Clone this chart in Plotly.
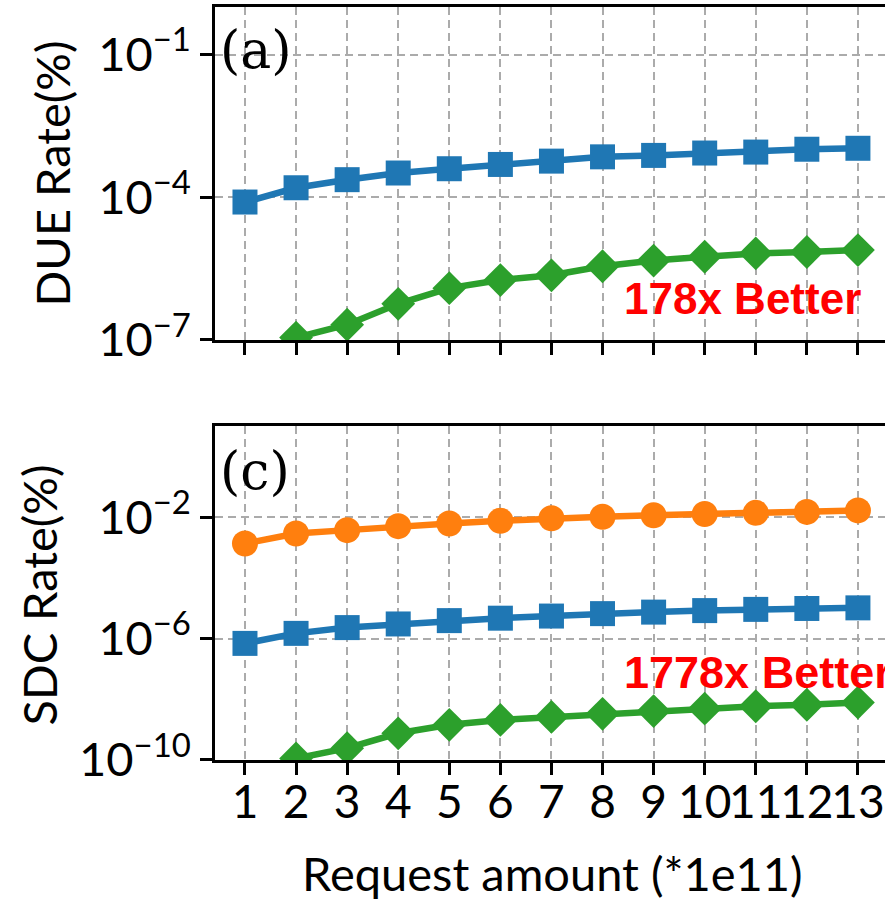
import plotly.graph_objects as go

# ---------------- data ----------------
x_vals = [1, 2, 3, 4, 5, 6, 7, 8, 9, 10, 11, 12, 13]
x_ticktext = [str(v) for v in x_vals]

# (a) DUE rate (%)  -- log10 values
due_blue_log = [-4.10, -3.80, -3.63, -3.49, -3.40, -3.31, -3.24, -3.15, -3.12, -3.07, -3.05, -2.99, -2.97]
due_green_log = [None, -6.95, -6.68, -6.24, -5.91, -5.74, -5.64, -5.45, -5.33, -5.25, -5.18, -5.15, -5.11]

# (c) SDC rate (%)
sdc_orange_log = [-2.87, -2.54, -2.43, -2.30, -2.21, -2.12, -2.04, -1.99, -1.94, -1.90, -1.86, -1.83, -1.78]
sdc_blue_log = [-6.16, -5.83, -5.64, -5.52, -5.41, -5.33, -5.26, -5.18, -5.13, -5.08, -5.04, -5.01, -4.99]
sdc_green_log = [None, -9.95, -9.61, -9.12, -8.84, -8.68, -8.58, -8.48, -8.39, -8.31, -8.23, -8.18, -8.11]

due_ticks = [1e-1, 1e-4, 1e-7]
due_ticktext = ["10<sup>\u22121</sup>", "10<sup>\u22124</sup>", "10<sup>\u22127</sup>"]
sdc_ticks = [1e-2, 1e-6, 1e-10]
sdc_ticktext = ["10<sup>\u22122</sup>", "10<sup>\u22126</sup>", "10<sup>\u221210</sup>"]


def to_val(logs):
    return [None if v is None else 10 ** v for v in logs]


BLUE = "#1f77b4"
ORANGE = "#ff7f0e"
GREEN = "#2ca02c"
FONT = "Lato, 'Open Sans', sans-serif"

fig = go.Figure()


def add(y_logs, color, symbol, xa, ya, size=25):
    fig.add_trace(go.Scatter(
        x=x_vals, y=to_val(y_logs), mode="lines+markers",
        line=dict(color=color, width=6.5),
        marker=dict(color=color, symbol=symbol, size=size),
        xaxis=xa, yaxis=ya, showlegend=False, connectgaps=False,
    ))


add(due_blue_log, BLUE, "square", "x", "y")
add(due_green_log, GREEN, "diamond", "x", "y", size=26)
add(sdc_orange_log, ORANGE, "circle", "x2", "y2", size=26)
add(sdc_blue_log, BLUE, "square", "x2", "y2")
add(sdc_green_log, GREEN, "diamond", "x2", "y2", size=26)

grid = dict(showgrid=True, gridcolor="#ababab", gridwidth=2, griddash="8px,5px")
axline = dict(showline=True, linecolor="black", linewidth=2.5,
              ticks="outside", ticklen=12, tickwidth=2.5, tickcolor="black",
              zeroline=False)

xcommon = dict(range=[0.413, 13.53], tickmode="array", tickvals=x_vals,
               ticktext=x_ticktext, tickangle=0, mirror=True,
               ticklabeloverflow="allow",
               tickfont=dict(family=FONT, size=46, color="black"),
               **grid, **axline)

fig.update_layout(
    width=885, height=903,
    margin=dict(l=215, r=0, t=7, b=143),
    paper_bgcolor="white", plot_bgcolor="white",
    xaxis=dict(domain=[0, 1], anchor="y", showticklabels=False, **xcommon),
    xaxis2=dict(domain=[0, 1], anchor="y2", showticklabels=True,
                ticklabelstandoff=-12, **xcommon),
    yaxis=dict(domain=[0.5578, 1], anchor="x", type="log", range=[-7, 0],
               tickmode="array", tickvals=due_ticks, ticktext=due_ticktext,
               tickfont=dict(family=FONT, size=47, color="black"),
               **grid, **axline),
    yaxis2=dict(domain=[0, 0.4436], anchor="x2", type="log", range=[-10, 1],
                tickmode="array", tickvals=sdc_ticks, ticktext=sdc_ticktext,
                tickfont=dict(family=FONT, size=47, color="black"),
                **grid, **axline),
)

ann = []
# axis titles
ann.append(dict(text="DUE Rate(%)", xref="paper", yref="paper", x=-0.2433, y=0.779,
                textangle=-90, showarrow=False, xanchor="center", yanchor="middle",
                font=dict(family=FONT, size=47, color="black")))
ann.append(dict(text="SDC Rate(%)", xref="paper", yref="paper", x=-0.262, y=0.219,
                textangle=-90, showarrow=False, xanchor="center", yanchor="middle",
                font=dict(family=FONT, size=47, color="black")))
ann.append(dict(text="Request amount (*1e11)", xref="paper", yref="paper", x=0.503, y=-0.150,
                showarrow=False, xanchor="center", yanchor="middle",
                font=dict(family=FONT, size=47, color="black")))
# panel labels
ann.append(dict(text="(a)", xref="paper", yref="paper", x=0.0045, y=0.9435,
                showarrow=False, xanchor="left", yanchor="middle",
                font=dict(family="DejaVu Serif", size=52, color="black")))
ann.append(dict(text="(c)", xref="paper", yref="paper", x=0.0045, y=0.384,
                showarrow=False, xanchor="left", yanchor="middle",
                font=dict(family="DejaVu Serif", size=52, color="black")))
# improvement notes
ann.append(dict(text="<b>178x Better</b>", xref="x", yref="y", x=8.38, y=-6.13,
                showarrow=False, xanchor="left", yanchor="middle",
                font=dict(family="Liberation Sans, Arial", size=44, color="#ff0000")))
ann.append(dict(text="<b>1778x Better</b>", xref="x2", yref="y2", x=8.38, y=-7.11,
                showarrow=False, xanchor="left", yanchor="middle",
                font=dict(family="Liberation Sans, Arial", size=45, color="#ff0000")))
fig.update_layout(annotations=ann)

fig.write_html("out.html")
